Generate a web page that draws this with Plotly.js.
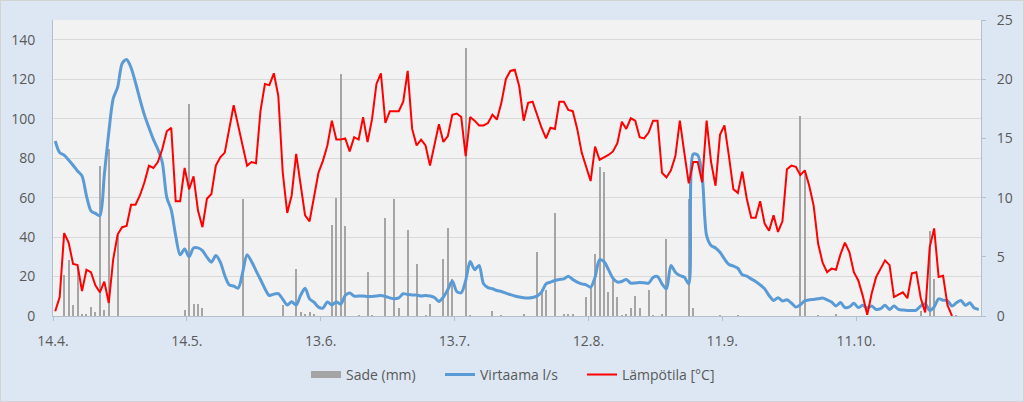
<!DOCTYPE html>
<html>
<head>
<meta charset="utf-8">
<script src="https://cdn.plot.ly/plotly-3.0.1.min.js"></script>
<style>
html,body{margin:0;padding:0;background:#dde7f3;}
#wrap{position:relative;width:1024px;height:402px;overflow:hidden;}
#chart{width:1024px;height:402px;}
#frame{position:absolute;left:0;top:0;width:1024px;height:402px;box-sizing:border-box;border:1px solid #d3d3d3;pointer-events:none;}
</style>
</head>
<body>
<div id="wrap"><div id="chart"></div><div id="frame"></div></div>
<script>
// ---- data (daily values starting 14.4.) ----
const startDate = '2019-04-14';
const endDate = '2019-11-08';
const tickDates = ['2019-04-14','2019-05-14','2019-06-13','2019-07-13','2019-08-12','2019-09-11','2019-10-11'];
const tickLabels = ['14.4.','14.5.','13.6.','13.7.','12.8.','11.9.','11.10.'];

const seriesNames = ['Sade (mm)', 'Virtaama l/s', 'Lämpötila [°C]'];

// Sade (mm), daily
const rainMm = [
  0,0,3.5,4.7,0.9,4.0,0.2,0.2,0.8,0.3,
  12.7,0.5,14.1,0,6.8,0,0,0,0,0,
  0,0,0,0,0,0,0,0,0,0.5,
  17.9,1.0,1.0,0.7,0,0,0,0,0,0,
  0,0,9.9,0,0,0,0,0,0,0,
  0,0.9,0,0,4.0,0.3,0.2,0.3,0.2,0,
  0,0,7.7,10.0,20.4,7.6,0,0,0.1,0,
  3.7,0.1,0,0,8.3,0,9.9,0.7,0,7.3,
  0,4.4,0,0.1,1.0,0,0,4.8,7.4,3.1,
  0,0,22.6,0.1,0,0,0,0,0.4,0,
  0.1,0,0,0,0,0.2,0,0,5.4,2.3,
  2.2,0,8.7,0,0.2,0.2,0.2,0,0,1.6,
  2.4,5.2,12.6,12.2,2.0,3.2,1.6,0.1,0.2,0.7,
  1.7,0.7,0,2.2,0.1,0,0.2,6.5,0,0,
  0,0,9.9,0.7,0,0,0,0,0,0.1,
  0,0,0,0.1,0,0,0,0,0,0,
  0,0,0,0,0,0,0,16.9,12.0,0,
  0,0.1,0,0,0,0.2,0,0,0,0,
  0,0,0,0,0,0,0,0,0,0,
  0,0,0,0,0.4,0,7.2,3.1,0,0,
  0,0,0.1,0,0,0,0,0
];

// Virtaama l/s, daily
const flowLs = [
  88.7,82.8,81.5,79.1,76.4,73.5,71.0,60.9,53.3,52.0,
  50.8,71.5,93.0,110.1,116.0,128.0,130.0,125.8,118.2,109.7,
  101.8,95.5,89.5,84.5,77.8,60.1,53.8,40.7,31.0,34.0,
  30.0,34.5,34.5,33.1,29.8,27.3,30.6,27.3,20.5,15.8,
  15.2,14.1,22.0,31.0,27.6,23.0,18.5,13.8,10.4,11.1,
  11.3,8.5,5.6,7.2,5.6,10.5,14.0,8.7,7.0,4.5,
  4.0,7.1,5.6,7.1,6.0,10.4,11.6,10.1,10.1,10.1,
  9.9,9.9,10.1,10.4,9.9,9.2,8.7,9.2,11.3,10.9,
  10.6,10.6,10.1,10.4,10.1,9.4,7.4,9.6,13.4,17.7,
  12.4,11.8,18.0,27.6,23.5,25.6,16.3,14.4,13.8,12.9,
  12.4,11.6,10.8,10.1,9.6,9.2,9.1,9.4,10.1,12.1,
  16.3,17.2,18.0,18.5,18.8,20.2,18.5,17.2,16.3,15.8,
  14.6,19.7,28.5,27.5,23.5,19.2,17.2,17.5,18.5,16.7,
  16.7,17.0,16.8,16.7,19.5,20.0,16.3,13.8,25.6,22.2,
  20.5,19.7,16.3,82.0,81.5,71.0,40.7,35.7,34.5,32.3,
  28.9,26.1,25.3,24.2,20.9,20.2,18.8,17.5,15.8,13.8,
  10.4,7.9,9.2,7.6,8.2,6.6,4.5,5.7,7.7,8.2,
  8.4,8.7,9.1,8.2,7.1,5.1,6.8,4.3,4.6,6.4,
  4.3,5.4,4.0,5.1,3.3,3.7,5.4,3.3,5.1,3.3,
  3.0,2.8,2.8,3.0,5.1,6.2,2.8,4.6,8.7,8.0,
  7.7,5.1,6.7,7.9,5.4,6.7,4.0,3.3
];

// Lämpötila [°C], daily
const tempC = [
  0.4,1.6,7.0,6.2,4.4,4.3,2.1,3.9,3.7,2.6,
  2.0,2.9,1.1,4.8,6.9,7.5,7.6,9.4,9.4,10.2,
  11.3,12.7,12.5,13.0,14.1,15.6,15.9,9.7,9.7,12.5,
  10.7,11.8,8.9,7.5,9.9,10.3,12.7,13.4,13.8,15.8,
  17.8,16.1,14.4,12.7,13.0,12.9,17.3,19.6,19.5,20.5,
  18.6,12.1,8.7,10.2,13.7,11.0,8.5,8.0,10.2,12.1,
  13.1,14.4,16.5,14.9,14.9,15.0,13.9,15.1,14.9,16.8,
  14.7,16.6,19.6,20.5,16.3,17.3,17.3,17.3,18.1,20.7,
  15.8,14.4,14.9,14.4,12.7,14.4,16.2,14.7,15.2,17.0,
  17.1,16.8,13.5,16.8,16.5,16.1,16.1,16.3,17.0,16.6,
  18.0,20.0,20.7,20.8,19.4,16.5,18.0,18.1,16.9,15.9,
  15.0,15.9,15.8,18.1,18.1,17.4,17.3,15.8,13.8,12.6,
  11.4,14.3,13.2,13.4,13.6,13.9,14.6,16.4,15.8,16.7,
  16.5,15.1,15.0,15.5,16.5,16.5,12.1,11.7,12.3,13.5,
  16.5,13.8,11.2,13.0,13.0,11.3,16.5,13.0,11.0,15.3,
  16.1,13.5,10.7,10.4,12.2,9.9,8.3,8.3,9.7,7.8,
  7.2,8.5,7.1,8.0,12.4,12.7,12.6,11.9,12.3,11.0,
  9.3,6.1,4.5,3.7,4.0,3.9,5.2,6.2,5.4,3.7,
  3.0,1.7,0.1,1.9,3.3,4.0,4.7,4.3,1.6,1.8,
  2.0,1.5,3.6,3.7,1.5,0.3,5.8,7.4,3.3,3.4,
  0.9,0.0
];

// ---- helpers: one x value per day, placed at the middle of the day ----
const DAY = 86400000;
const t0 = Date.parse(startDate + 'T00:00:00Z');
function dayX(i) {
  return new Date(t0 + (i + 0.5) * DAY).toISOString().slice(0, 19).replace('T', ' ');
}
const xRain = rainMm.map((_, i) => dayX(i));
const xFlow = flowLs.map((_, i) => dayX(i));
const xTemp = tempC.map((_, i) => dayX(i));

const FONT = 'Open Sans, Noto Sans, sans-serif';
const TXT = '#595959';
const AXIS = '#b4bfcc';
const GRID = '#d9d9d9';

const traces = [
  { type: 'bar', name: seriesNames[0], x: xRain, y: rainMm, yaxis: 'y',
    marker: { color: '#a5a5a5', line: { width: 0 } }, width: 0.45 * DAY,
    showlegend: false, legendgroup: 'rain', hoverinfo: 'skip' },
  { type: 'scatter', mode: 'lines', name: seriesNames[0], x: [null], y: [null], yaxis: 'y',
    line: { color: '#a5a5a5', width: 7 }, legendgroup: 'rain', legend: 'legend', hoverinfo: 'skip' },
  { type: 'scatter', mode: 'lines', name: seriesNames[1], x: xFlow, y: flowLs, yaxis: 'y2',
    line: { color: '#5b9bd5', width: 3, shape: 'spline', smoothing: 0.8 }, legend: 'legend2', hoverinfo: 'skip' },
  { type: 'scatter', mode: 'lines', name: seriesNames[2], x: xTemp, y: tempC, yaxis: 'y3',
    line: { color: '#ff0000', width: 2 }, legend: 'legend3', hoverinfo: 'skip' }
];

function legendAt(px) {
  return { orientation: 'h', x: (px - 53) / 928, xanchor: 'left', y: -0.195, yanchor: 'middle',
           font: { family: FONT, size: 14, color: TXT }, bgcolor: 'rgba(0,0,0,0)', borderwidth: 0,
           itemwidth: 30 };
}

const layout = {
  width: 1024, height: 402,
  margin: { l: 53, r: 43, t: 20, b: 85 },
  paper_bgcolor: '#dde7f3',
  plot_bgcolor: '#f2f2f2',
  font: { family: FONT, size: 14, color: TXT },
  showlegend: true,
  legend: legendAt(306),
  legend2: legendAt(440),
  legend3: legendAt(582),
  bargap: 0,
  xaxis: { type: 'date', range: [startDate, endDate], tickmode: 'array',
           tickvals: tickDates, ticktext: tickLabels, showgrid: false, zeroline: false,
           showline: true, linecolor: AXIS, linewidth: 1, ticks: 'outside', ticklen: 4,
           tickcolor: AXIS, ticklabelstandoff: 8, tickfont: { size: 14, color: TXT } },
  yaxis: { side: 'right', range: [0, 25], tickmode: 'array', tickvals: [0,5,10,15,20,25],
           showgrid: false, zeroline: false, showline: true, linecolor: AXIS, linewidth: 1,
           ticks: 'outside', ticklen: 4, tickcolor: AXIS, ticklabelstandoff: 8,
           tickfont: { size: 14, color: TXT } },
  yaxis2: { overlaying: 'y', side: 'left', range: [0, 150], tickmode: 'array',
            tickvals: [0,20,40,60,80,100,120,140], showgrid: true, gridcolor: GRID, gridwidth: 1,
            zeroline: false, showline: true, linecolor: AXIS, linewidth: 1, ticks: '',
            ticklabelstandoff: 14, tickfont: { size: 14, color: TXT } },
  yaxis3: { overlaying: 'y', range: [0, 25], visible: false }
};

Plotly.newPlot('chart', traces, layout, { displayModeBar: false, staticPlot: true });
</script>
</body>
</html>
